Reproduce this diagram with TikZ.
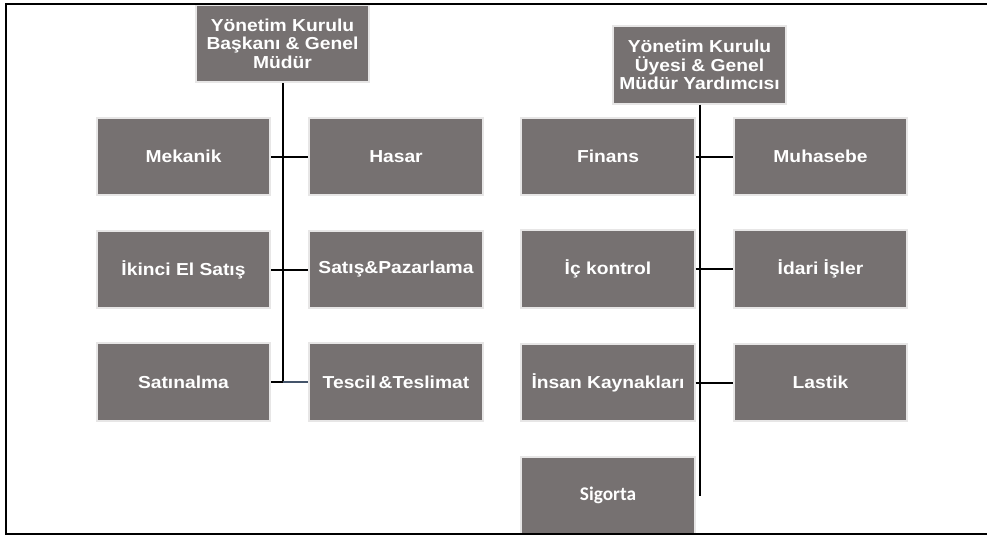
\documentclass[tikz,border=0pt]{standalone}
\usepackage{fontspec}
\setmainfont{Liberation Sans}[FakeStretch=1.11]
\newfontfamily\calfont{Carlito}
\usetikzlibrary{positioning}
\definecolor{boxfill}{HTML}{767171}
\definecolor{boxedge}{HTML}{E7E6E6}
\definecolor{linkblue}{HTML}{44546A}
\tikzset{
  box/.style={draw=boxedge, fill=boxfill, line width=1.5pt, text=white,
    font=\fontsize{13}{14}\selectfont\bfseries, align=center,
    minimum width=130pt, minimum height=58pt, inner sep=2pt},
  link/.style={draw=black, line width=1.5pt},
  frame/.style={draw=black, line width=1.6pt},
}

\begin{document}
\begin{tikzpicture}[x=0.75pt, y=-0.75pt]
  \useasboundingbox (0,0) rectangle (987,536);

  % left branch
  \node[box] (bsk) at (282.5,43.5) {Yönetim Kurulu\\Başkanı \& Genel\\Müdür};
  \node[box] (mek) at (183.5,156.5) {Mekanik};
  \node[box] (has) at (396,156.5) {Hasar};
  \node[box] (ike) at (183.5,269.5) {İkinci El Satış};
  \node[box] (paz) at (396,269.5) {Satış\&Pazarlama};
  \node[box] (sat) at (183.5,382) {Satınalma};
  \node[box] (tes) at (396,382) {Tescil\,\&Teslimat};

  % right branch
  \node[box] (uye) at (699.5,65) {Yönetim Kurulu\\Üyesi \& Genel\\Müdür Yardımcısı};
  \node[box] (fin) at (608,156.5) {Finans};
  \node[box] (muh) at (820.5,156.5) {Muhasebe};
  \node[box] (ick) at (608,269) {İç kontrol};
  \node[box] (ida) at (820.5,269) {İdari İşler};
  \node[box] (ins) at (608,382.5) {İnsan Kaynakları};
  \node[box] (las) at (820.5,382.5) {Lastik};
  \node[box, font=\calfont\fontsize{14.5}{16}\selectfont\bfseries] (sig) at (608,495.5) {Sigorta};

  \coordinate (bend) at (bsk.south |- sat.east);
  \draw[link] (bsk.south) -- (bend);
  \draw[link] (mek.east) -- (has.west);
  \draw[link] (ike.east) -- (paz.west);
  \draw[link] (sat.east) -- (bend);
  \draw[link, draw=linkblue, line width=1.2pt] (bend) -- (tes.west);

  \draw[link] (uye.south) -- (uye.south |- sig.east);
  \draw[link] (fin.east) -- (muh.west);
  \draw[link] (ick.east) -- (ida.west);
  \draw[link] (ins.east) -- (las.west);

  \draw[frame] (987,4) -- (6,4) -- (6,534) -- (987,534);
\end{tikzpicture}
\end{document}
